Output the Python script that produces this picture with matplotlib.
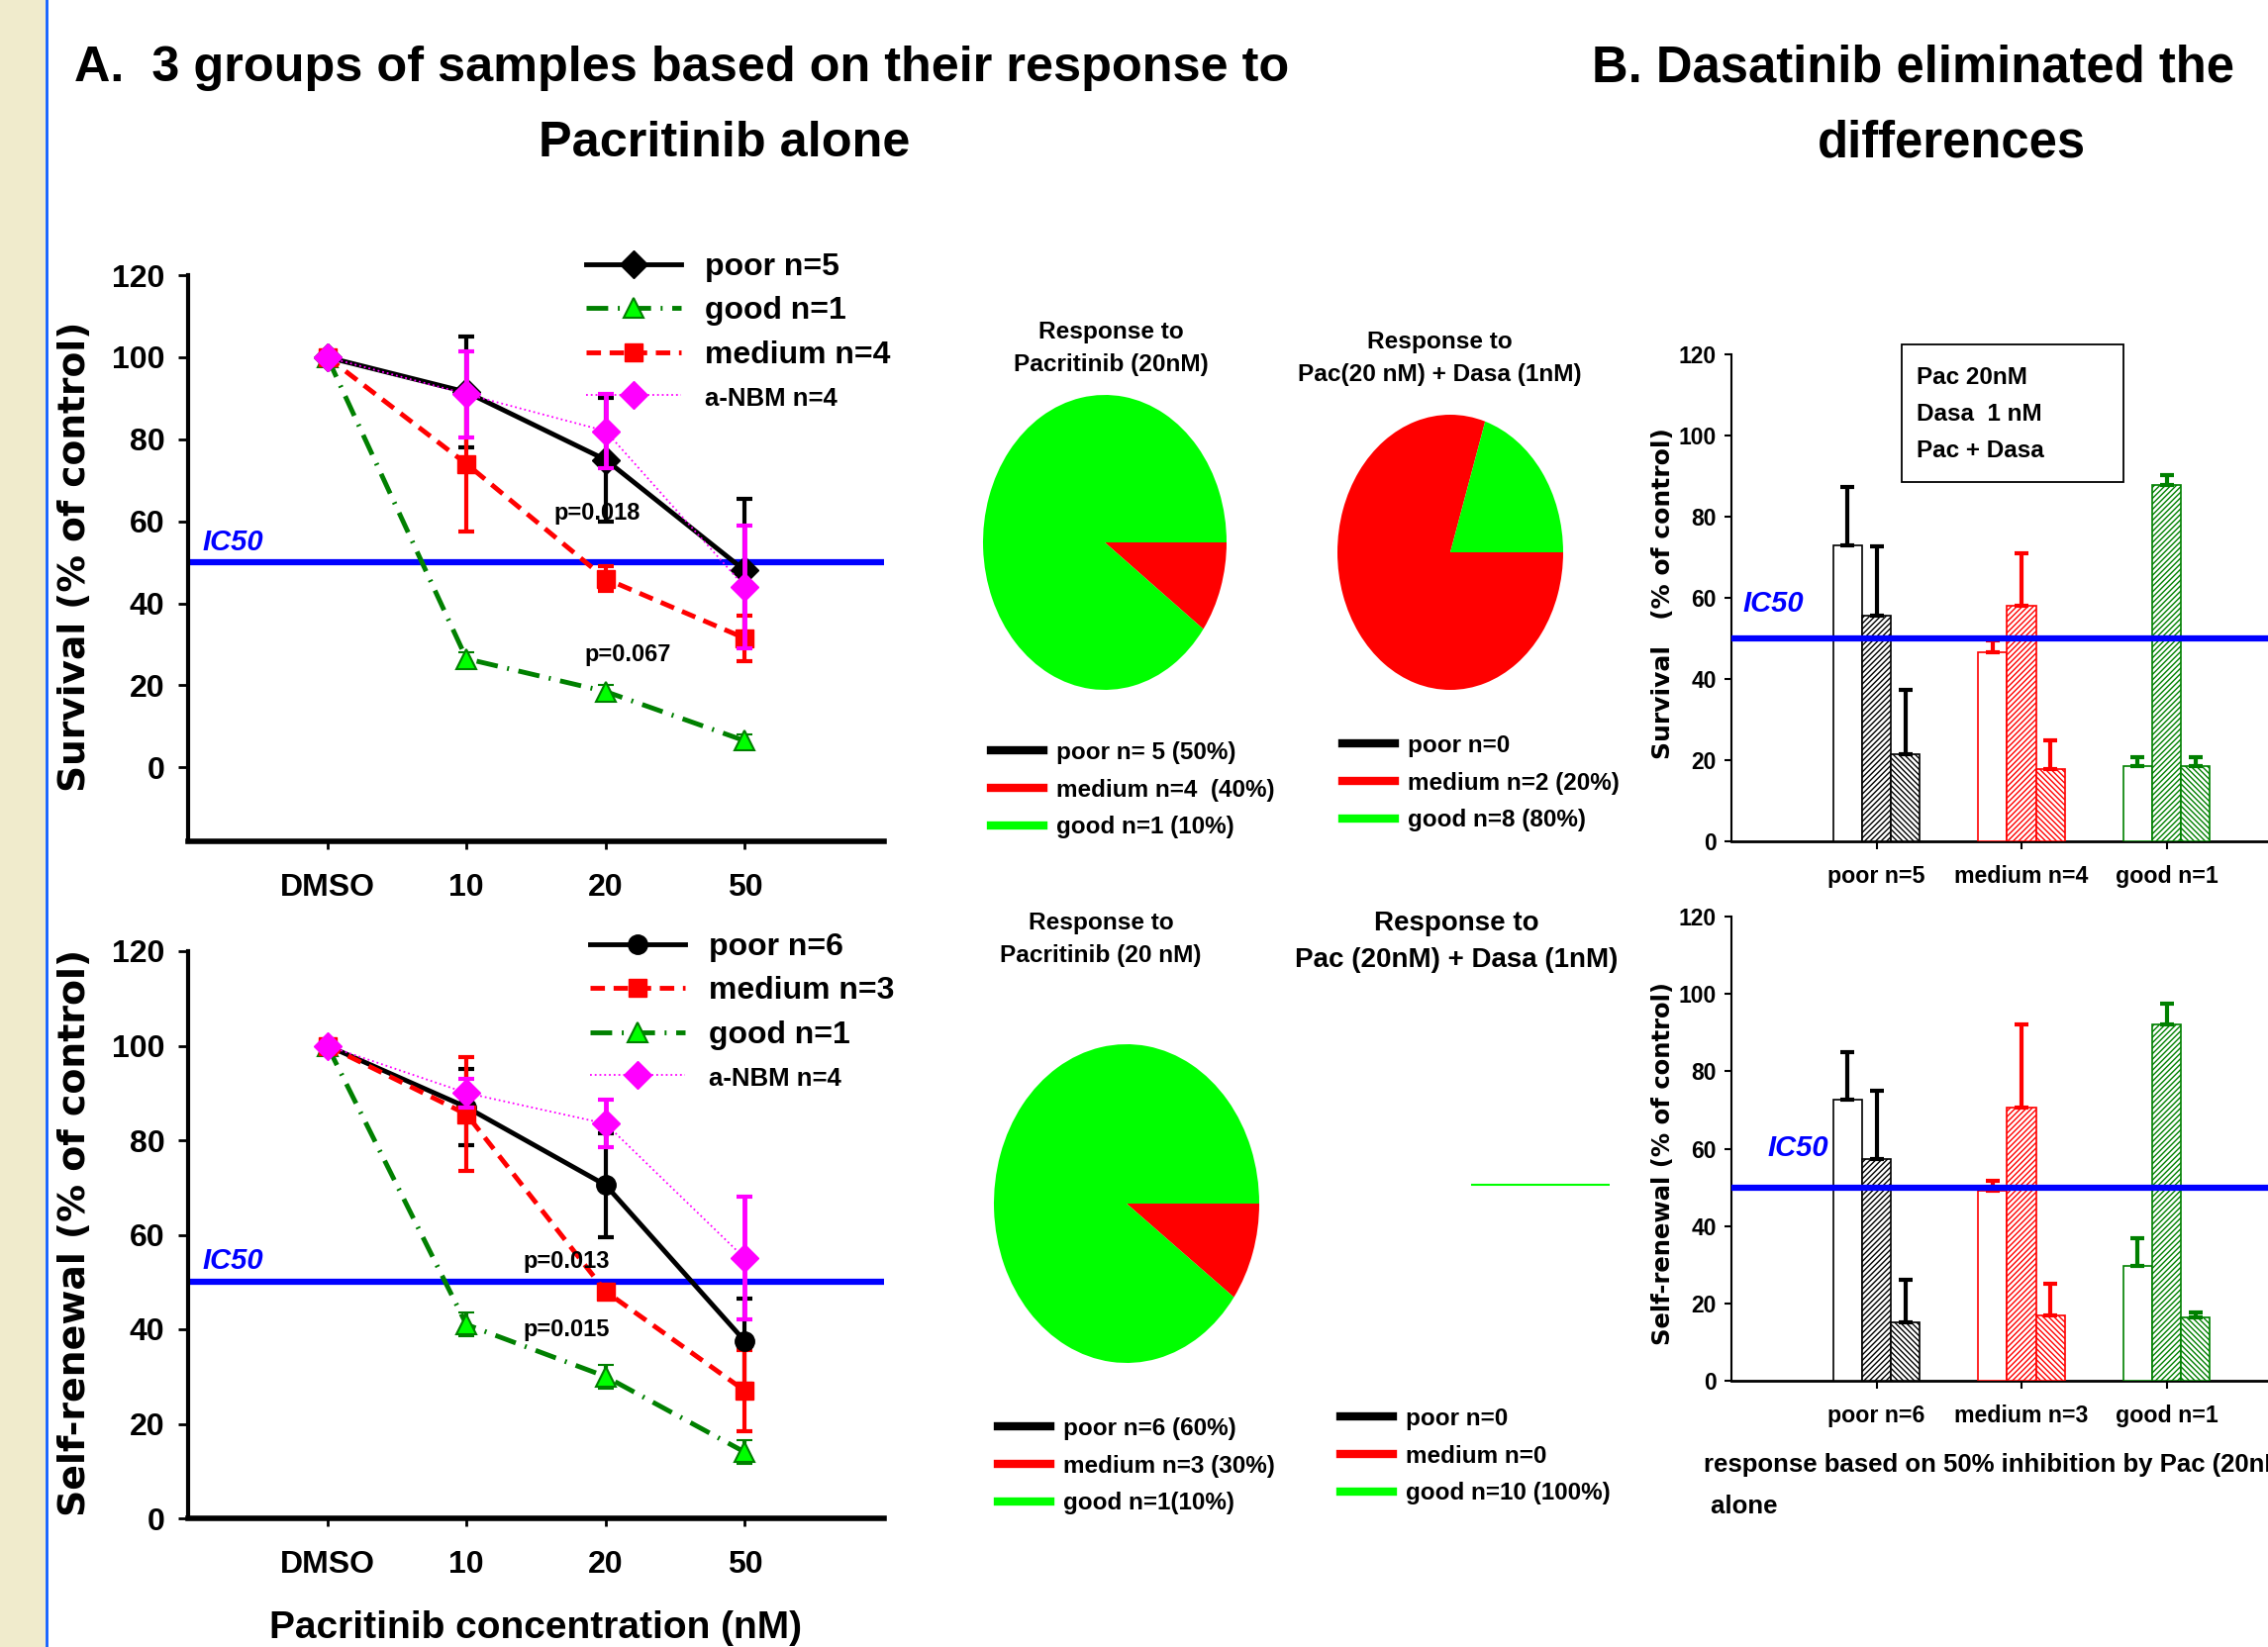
import matplotlib
matplotlib.use('Agg')
import matplotlib.pyplot as plt
from matplotlib.lines import Line2D
from matplotlib.patches import Rectangle
import numpy as np

# ---------------- data ----------------
conc = ['DMSO', '10', '20', '50']

surv_poor = [100, 91.5, 75, 48]
surv_poor_err = [0, 13.5, 15, 17.5]
surv_good = [100, 26.5, 18.5, 6.5]
surv_good_err = [0, 1.5, 1.5, 1.5]
surv_medium = [100, 74, 46, 31.5]
surv_medium_err = [0, 16.5, 3, 5.5]
surv_nbm = [100, 91, 82, 44]
surv_nbm_err = [0, 10.5, 9, 15]

sr_poor = [100, 87, 70.5, 37.5]
sr_poor_err = [0, 8, 11, 9]
sr_medium = [100, 85.5, 48, 27]
sr_medium_err = [0, 12, 1.5, 8.5]
sr_good = [100, 41, 30, 14]
sr_good_err = [0, 2.5, 2.5, 2.5]
sr_nbm = [100, 90, 83.5, 55]
sr_nbm_err = [0, 3, 5, 13]

surv_pvals = [('p=0.018', 1.94, 61.9), ('p=0.067', 2.16, 27.4)]
sr_pvals = [('p=0.013', 1.72, 54.4), ('p=0.015', 1.72, 39.8)]

# pies: slices as drawn (red, green) and legend texts
pie_tl = [1, 9]
pie_tr = [8, 2]
pie_bl = [1, 9]
pie_br = [0, 10]
pie_colors = ['#ff0000', '#00ff00']
leg_tl = ['poor n= 5 (50%)', 'medium n=4  (40%)', 'good n=1 (10%)']
leg_tr = ['poor n=0', 'medium n=2 (20%)', 'good n=8 (80%)']
leg_bl = ['poor n=6 (60%)', 'medium n=3 (30%)', 'good n=1(10%)']
leg_br = ['poor n=0', 'medium n=0', 'good n=10 (100%)']

# bars
surv_groups = ['poor n=5', 'medium n=4', 'good n=1']
bar_surv_pac = [73, 46.7, 18.5]
bar_surv_pac_err = [14.3, 2.7, 2.3]
bar_surv_dasa = [55.7, 58, 87.8]
bar_surv_dasa_err = [17, 13, 2.4]
bar_surv_combo = [21.5, 17.8, 18.5]
bar_surv_combo_err = [15.7, 7, 2.3]

sr_groups = ['poor n=6', 'medium n=3', 'good n=1']
bar_sr_pac = [72.6, 49, 29.8]
bar_sr_pac_err = [12.3, 2.6, 7.1]
bar_sr_dasa = [57.4, 70.6, 92]
bar_sr_dasa_err = [17.5, 21.5, 5.6]
bar_sr_combo = [15, 17, 16.3]
bar_sr_combo_err = [11.2, 8.2, 1.4]

treatments = ['Pac 20nM', 'Dasa  1 nM', 'Pac + Dasa']

# ---------------- style ----------------
plt.rcParams['font.family'] = ['Liberation Sans', 'DejaVu Sans']
plt.rcParams['font.weight'] = 'bold'
plt.rcParams['axes.labelweight'] = 'bold'
plt.rcParams['hatch.linewidth'] = 1.0

W, H = 2291, 1664
fig = plt.figure(figsize=(W / 100, H / 100), dpi=100)


def fx(px):
    return px / W


def fy(py):
    return 1 - py / H


# side strip
fig.patches.append(Rectangle((0, 0), fx(46), 1, transform=fig.transFigure,
                             facecolor='#f0ebcc', edgecolor='none', zorder=0))
fig.add_artist(Line2D([fx(47), fx(47)], [0, 1], color='#1060ff', lw=2))

# titles
fig.text(fx(689), fy(69), 'A.  3 groups of samples based on their response to',
         ha='center', va='center', fontsize=36.3)
fig.text(fx(732), fy(145), 'Pacritinib alone', ha='center', va='center', fontsize=36.3)
fig.text(fx(1932), fy(69), 'B. Dasatinib eliminated the', ha='center', va='center', fontsize=36.5)
fig.text(fx(1971), fy(145), 'differences', ha='center', va='center', fontsize=36.5)

GREEN = '#008000'
styles = {
    'poor': dict(color='black', ls='-', lw=3.5, ms=14, mfc='black', mec='black'),
    'medium': dict(color='#ff0000', ls=(0, (3, 1.8)), lw=3.5, marker='s', ms=13,
                   mfc='#ff0000', mec='#ff0000'),
    'good': dict(color=GREEN, ls=(0, (4.5, 2, 0.4, 2)), lw=3.5, marker='^', ms=14,
                 mfc='#00ff00', mec=GREEN, mew=1.5),
    'nbm': dict(color='#ff00ff', ls=':', lw=1.3, marker='D', ms=14,
                mfc='#ff00ff', mec='#ff00ff'),
}


def line_panel(rect, ylim, series, order, leg_xy, ylabel, ylabel_fs, pvals):
    ax = fig.add_axes(rect)
    x = np.arange(len(conc))
    handles = {}
    for key, label, y, err, marker in series:
        st = dict(styles[key])
        if marker is not None:
            st['marker'] = marker
        ecol = st['color']
        eb = ax.errorbar(x, y, yerr=err, capsize=6, capthick=3,
                         elinewidth=3 if key != 'nbm' else 3.5, ecolor=ecol,
                         label=label, zorder=4 if key == 'nbm' else 3, **st)
        handles[key] = (eb[0], label)
    ax.axhline(50, color='#0000ff', lw=4.5, zorder=2)
    ax.text(-0.9, 51.5, 'IC50', color='#0000ff', style='italic', fontsize=21,
            ha='left', va='bottom')
    for txt, px, py in pvals:
        ax.text(px, py, txt, fontsize=17, ha='center', va='center', zorder=5)
    ax.set_xlim(-1, 4)
    ax.set_ylim(*ylim)
    ax.set_yticks(range(0, 121, 20))
    ax.set_xticks(x, conc)
    for s in ['top', 'right']:
        ax.spines[s].set_visible(False)
    ax.spines['left'].set_linewidth(3)
    ax.spines['bottom'].set_linewidth(4)
    ax.spines['left'].set_bounds(ylim[0], 120)
    ax.tick_params(axis='y', length=7, width=2, labelsize=23, pad=10)
    ax.tick_params(axis='x', length=6, width=2, labelsize=23, pad=17)
    ax.set_ylabel(ylabel, fontsize=ylabel_fs, family=['DejaVu Sans'], va='center')
    ax.yaxis.set_label_coords(-0.162, 0.503)
    leg = ax.legend([handles[k][0] for k in order], [handles[k][1] for k in order],
                    loc='upper left', bbox_to_anchor=(fx(leg_xy[0]), fy(leg_xy[1])),
                    bbox_transform=fig.transFigure, frameon=False, fontsize=23,
                    handlelength=3.0, handletextpad=0.75, labelspacing=0.45,
                    borderpad=0, borderaxespad=0, numpoints=1)
    leg.get_texts()[-1].set_fontsize(18.5)
    return ax


line_panel([fx(190), fy(850), fx(703), (850 - 278) / H], (-18, 120),
           [('poor', 'poor n=5', surv_poor, surv_poor_err, 'D'),
            ('good', 'good n=1', surv_good, surv_good_err, None),
            ('medium', 'medium n=4', surv_medium, surv_medium_err, None),
            ('nbm', 'a-NBM n=4', surv_nbm, surv_nbm_err, None)],
           ['poor', 'good', 'medium', 'nbm'], (592, 255),
           'Survival (% of control)', 27, surv_pvals)

line_panel([fx(190), fy(1534), fx(703), (1534 - 961) / H], (0, 120),
           [('poor', 'poor n=6', sr_poor, sr_poor_err, 'o'),
            ('good', 'good n=1', sr_good, sr_good_err, None),
            ('medium', 'medium n=3', sr_medium, sr_medium_err, None),
            ('nbm', 'a-NBM n=4', sr_nbm, sr_nbm_err, None)],
           ['poor', 'medium', 'good', 'nbm'], (596, 942),
           'Self-renewal (% of control)', 27.3, sr_pvals)

fig.text(fx(541), fy(1645), 'Pacritinib concentration (nM)', ha='center', va='center',
         fontsize=28)


# ---------------- pies ----------------
def pie_panel(cx, cy, rx, ry, vals, title, title_xy, title_fs, leg_labels, leg_xy):
    ax = fig.add_axes([fx(cx - rx), fy(cy + ry), 2 * rx / W, 2 * ry / H])
    if sum(v > 0 for v in vals) > 1:
        ax.pie(vals, colors=pie_colors, startangle=0, counterclock=False,
               wedgeprops=dict(linewidth=0))
    else:
        # a single full slice: only its radial edge is drawn
        ang = 0.0
        ax.plot([0, np.cos(ang)], [0, np.sin(ang)], color='#00ff00', lw=1.5)
    ax.set_aspect('auto')
    ax.set_xlim(-1, 1)
    ax.set_ylim(-1, 1)
    ax.axis('off')
    fig.text(fx(title_xy[0]), fy(title_xy[1]), title, ha='center', va='center',
             fontsize=title_fs, linespacing=1.55)
    hs = [Line2D([], [], color=c, lw=6) for c in ['black', '#ff0000', '#00ff00']]
    fig.legend(hs, leg_labels, loc='upper left',
               bbox_to_anchor=(fx(leg_xy[0]), fy(leg_xy[1])), frameon=False,
               fontsize=17.5, handlelength=2.2, handletextpad=0.5,
               labelspacing=0.6, borderpad=0, borderaxespad=0)


pie_panel(1116, 548, 123, 149, pie_tl, 'Response to\nPacritinib (20nM)', (1122, 352), 17.6,
          leg_tl, (1001, 749))
pie_panel(1465, 558, 114, 139, pie_tr, 'Response to\nPac(20 nM) + Dasa (1nM)', (1454, 362), 17.6,
          leg_tr, (1356, 742))
pie_panel(1138, 1216, 134, 161, pie_bl, 'Response to\nPacritinib (20 nM)', (1112, 949), 17.6,
          leg_bl, (1008, 1432))
pie_panel(1487, 1197, 139, 165, pie_br, 'Response to\nPac (20nM) + Dasa (1nM)', (1471, 951), 20,
          leg_br, (1354, 1422))


# ---------------- bars ----------------
group_colors = ['black', '#ff0000', GREEN]
hatches = [None, '//////', '\\\\\\\\\\\\']


def bar_panel(top_px, bottom_px, groups, series, ylabel, ylabel_fs, label_xy, ic50_xy):
    ax = fig.add_axes([fx(1749), fy(bottom_px), (2335 - 1749) / W, (bottom_px - top_px) / H])
    x = np.arange(len(groups))
    for i, (vals, errs) in enumerate(series):
        pos = x + (i - 1) * 0.2
        ax.bar(pos, vals, width=0.2, facecolor='white', edgecolor=group_colors,
               hatch=hatches[i], linewidth=1.2, zorder=3)
        for j in range(len(groups)):
            ax.errorbar(pos[j], vals[j], yerr=[[0], [errs[j]]], color=group_colors[j],
                        elinewidth=3, capsize=5, capthick=3, zorder=3, fmt='none')
    ax.axhline(50, color='#0000ff', lw=4.5, zorder=4)
    ax.text(ic50_xy[0], ic50_xy[1], 'IC50', color='#0000ff', style='italic',
            fontsize=21, ha='left', va='center')
    ax.set_xlim(-1, 3)
    ax.set_ylim(0, 120)
    ax.set_yticks(range(0, 121, 20))
    ax.set_xticks(x, groups)
    for s in ['top', 'right']:
        ax.spines[s].set_visible(False)
    ax.spines['left'].set_linewidth(1.5)
    ax.spines['bottom'].set_linewidth(2)
    ax.tick_params(axis='y', length=5, width=1.5, labelsize=16.5, pad=6)
    ax.tick_params(axis='x', length=6, width=1.5, labelsize=16.7, pad=11)
    ax.set_ylabel(ylabel, fontsize=ylabel_fs, family=['DejaVu Sans'], va='center')
    ax.yaxis.set_label_coords(*label_xy)
    return ax


bar_panel(358, 850, surv_groups,
          [(bar_surv_pac, bar_surv_pac_err), (bar_surv_dasa, bar_surv_dasa_err),
           (bar_surv_combo, bar_surv_combo_err)],
          'Survival   (% of control)', 18, (-0.118, 0.51), (-0.92, 58.5))
bar_panel(926, 1395, sr_groups,
          [(bar_sr_pac, bar_sr_pac_err), (bar_sr_dasa, bar_sr_dasa_err),
           (bar_sr_combo, bar_sr_combo_err)],
          'Self-renewal (% of control)', 17.5, (-0.118, 0.467), (-0.75, 60))

# treatment key box
fig.patches.append(Rectangle((fx(1921), fy(487)), (2145 - 1921) / W, (487 - 348) / H,
                             transform=fig.transFigure, facecolor='white',
                             edgecolor='black', lw=1.3, zorder=5))
for k, name in enumerate(treatments):
    fig.text(fx(1936), fy(381 + 37.5 * k), name, ha='left', va='center',
             fontsize=17.5, zorder=6)

fig.text(fx(1721), fy(1480), 'response based on 50% inhibition by Pac (20nM)',
         ha='left', va='center', fontsize=18.5)
fig.text(fx(1721), fy(1522), ' alone', ha='left', va='center', fontsize=18.5)

fig.savefig('out.png', dpi=100)
